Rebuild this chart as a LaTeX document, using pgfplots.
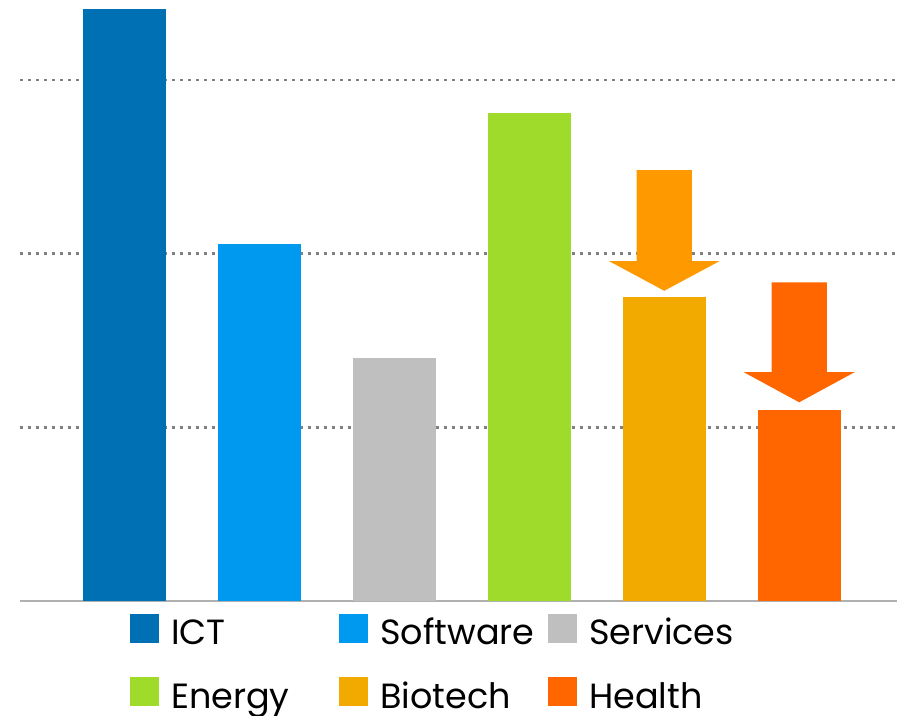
\documentclass[border=0pt]{standalone}
\usepackage{fontspec}
\setmainfont{Poppins}
\usepackage{pgfplots}
\pgfplotsset{compat=1.18}

\definecolor{cICT}{RGB}{0,112,180}
\definecolor{cSoft}{RGB}{0,153,240}
\definecolor{cServ}{RGB}{191,191,191}
\definecolor{cEnergy}{RGB}{158,219,42}
\definecolor{cBio}{RGB}{242,170,0}
\definecolor{cHealth}{RGB}{255,102,0}
\definecolor{cBioArrow}{RGB}{255,153,0}
\definecolor{cGrid}{RGB}{128,128,128}
\definecolor{cBase}{RGB}{176,176,176}

\pgfplotsset{
  catbar/.style={ybar, bar width=0.616, bar shift=0pt, draw=none, fill=#1,
    legend image code/.code={\fill[#1] (0pt,0pt) rectangle (29pt,29pt);}},
}
\newcommand{\lgA}[1]{\raisebox{13pt}{\makebox[180pt][l]{\hspace*{12pt}#1}}}

\begin{document}
\begin{tikzpicture}
\begin{axis}[
    scale only axis,
    width=877pt, height=601pt,
    xmin=-0.775, xmax=5.725,
    ymin=0, ymax=3.46,
    separate axis lines,
    axis x line*=bottom, axis y line*=left,
    x axis line style={draw=cBase, line width=2pt, -},
    y axis line style={draw=none},
    xtick=\empty,
    ytick={1,2,3}, yticklabels={},
    major tick length=0pt,
    ymajorgrids,
    major grid style={draw=cGrid, line width=2.6pt, dash pattern=on 2.6pt off 5.4pt},
    clip=false,
    legend columns=3,
    legend cell align=left,
    legend style={draw=none, fill=none, inner sep=0pt,
      at={(110/877,-12.7/601)}, anchor=north west,
      font=\fontsize{35}{40}\selectfont,
      nodes={inner sep=0pt, text height=30pt, text depth=0pt},
      row sep=19.3pt, column sep=0pt},
]
\addplot[catbar=cICT] coordinates {(0,3.408)};
\addlegendentry{\lgA{ICT}}
\addplot[catbar=cSoft] coordinates {(1,2.055)};
\addlegendentry{\lgA{Software}}
\addplot[catbar=cServ] coordinates {(2,1.399)};
\addlegendentry{\lgA{Services}}
\addplot[catbar=cEnergy] coordinates {(3,2.810)};
\addlegendentry{\lgA{Energy}}
\addplot[catbar=cBio] coordinates {(4,1.750)};
\addlegendentry{\lgA{Biotech}}
\addplot[catbar=cHealth] coordinates {(5,1.100)};
\addlegendentry{\lgA{Health}}

% arrows
\addplot[fill=cBioArrow, draw=none, forget plot] coordinates {
  (3.795,2.481) (4.205,2.481) (4.205,1.957) (4.41,1.957)
  (4.0,1.786) (3.59,1.957) (3.795,1.957)} -- cycle;
\addplot[fill=cHealth, draw=none, forget plot] coordinates {
  (4.795,1.835) (5.205,1.835) (5.205,1.317) (5.41,1.317)
  (5.0,1.144) (4.59,1.317) (4.795,1.317)} -- cycle;
\end{axis}
\pgfresetboundingbox
\path ([xshift=-20pt,yshift=-114pt]current axis.south west) rectangle (current axis.north east);
\end{tikzpicture}
\end{document}
